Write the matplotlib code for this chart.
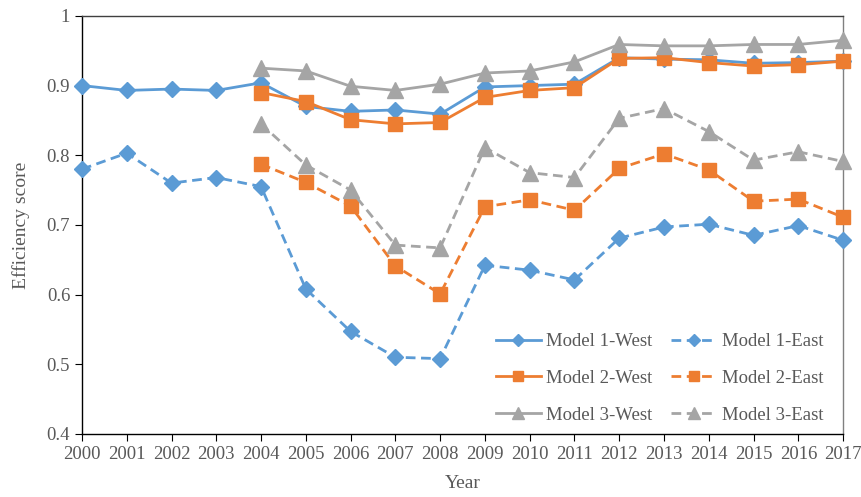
import matplotlib
matplotlib.use('Agg')
import matplotlib.pyplot as plt

# Данные
years_all = list(range(2000, 2018))
years_late = list(range(2004, 2018))

m1_west = [0.900, 0.893, 0.895, 0.893, 0.904, 0.870, 0.863, 0.865, 0.859,
           0.898, 0.900, 0.902, 0.940, 0.938, 0.937, 0.932, 0.933, 0.935]
m1_east = [0.780, 0.803, 0.760, 0.768, 0.755, 0.608, 0.547, 0.510, 0.508,
           0.642, 0.635, 0.621, 0.681, 0.697, 0.701, 0.685, 0.699, 0.678]
m2_west = [0.890, 0.877, 0.851, 0.845, 0.847, 0.883, 0.893, 0.897, 0.939,
           0.940, 0.933, 0.928, 0.930, 0.935]
m2_east = [0.787, 0.761, 0.727, 0.641, 0.601, 0.726, 0.736, 0.721, 0.781,
           0.802, 0.779, 0.734, 0.737, 0.711]
m3_west = [0.925, 0.921, 0.899, 0.893, 0.902, 0.918, 0.921, 0.934, 0.959,
           0.957, 0.957, 0.959, 0.959, 0.965]
m3_east = [0.845, 0.786, 0.750, 0.671, 0.667, 0.811, 0.775, 0.768, 0.853,
           0.867, 0.834, 0.793, 0.805, 0.791]

blue = '#5B9BD5'
orange = '#ED7D31'
gray = '#A5A5A5'
txt = '#595959'

plt.rcParams['font.family'] = ['Liberation Serif', 'DejaVu Serif']

fig = plt.figure(figsize=(8.61, 4.97), dpi=100)
ax = fig.add_axes([0.0952, 0.127, 0.884, 0.841])

dash = (0, (3.5, 2))
l1w, = ax.plot(years_all, m1_west, color=blue, lw=2, marker='D', ms=8, label='Model 1-West', clip_on=False, zorder=3)
l1e, = ax.plot(years_all, m1_east, color=blue, lw=2, ls=dash, marker='D', ms=8, label='Model 1-East', clip_on=False, zorder=3)
l2w, = ax.plot(years_late, m2_west, color=orange, lw=2, marker='s', ms=10, label='Model 2-West', clip_on=False, zorder=3)
l2e, = ax.plot(years_late, m2_east, color=orange, lw=2, ls=dash, marker='s', ms=10, label='Model 2-East', clip_on=False, zorder=3)
l3w, = ax.plot(years_late, m3_west, color=gray, lw=2, marker='^', ms=11, label='Model 3-West', clip_on=False, zorder=3)
l3e, = ax.plot(years_late, m3_east, color=gray, lw=2, ls=dash, marker='^', ms=11, label='Model 3-East', clip_on=False, zorder=3)

ax.set_xlim(2000, 2017)
ax.set_ylim(0.4, 1.0)
ax.set_xticks(years_all)
ax.set_yticks([0.4, 0.5, 0.6, 0.7, 0.8, 0.9, 1.0])
ax.set_yticklabels(['0.4', '0.5', '0.6', '0.7', '0.8', '0.9', '1'])
ax.tick_params(axis='both', labelsize=13.5, colors='black', labelcolor=txt, direction='out', length=5)
ax.set_xlabel('Year', fontsize=14, color=txt, labelpad=9)
ax.set_ylabel('Efficiency score', fontsize=14, color=txt, labelpad=12)

ax.spines['left'].set_color('black')
ax.spines['bottom'].set_color('black')
ax.spines['top'].set_color('#404040')
ax.spines['right'].set_color('#808080')
for s in ax.spines.values():
    s.set_linewidth(1)

handles = [l1w, l2w, l3w, l1e, l2e, l3e]
leg = ax.legend(handles=handles, labels=[h.get_label() for h in handles],
                loc='lower right', ncol=2, frameon=False, fontsize=13.5, labelcolor=txt,
                handlelength=2.4, handletextpad=0.3, markerscale=0.75, labelspacing=1.05,
                columnspacing=1.0, borderpad=0, borderaxespad=0,
                bbox_to_anchor=(0.974, 0.024))

fig.savefig('out.png', dpi=100)
